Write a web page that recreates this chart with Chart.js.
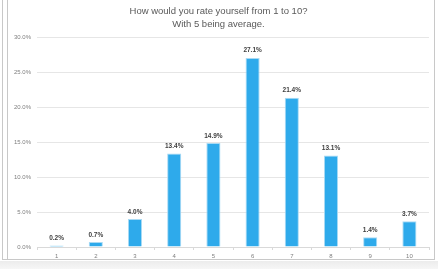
<!DOCTYPE html>
<html>
<head>
<meta charset="utf-8">
<script src="https://cdn.jsdelivr.net/npm/chart.js@4"></script>
<style>
  body { margin: 0; background: #fff; }
  #wrap { position: relative; width: 438px; height: 269px; overflow: hidden; }
  #frame { position: absolute; left: 2px; top: -2px; width: 431px; height: 260px; border: 1px solid #c8c8c8; }
  #inner { position: absolute; left: 7px; top: -2px; width: 0; height: 261px; border-left: 1px solid #c8c8c8; }
  #foot { position: absolute; left: 0; top: 261px; width: 438px; height: 8px; background: linear-gradient(#ececec, #f6f6f6); }
  canvas { position: absolute; left: 0; top: 0; }
</style>
</head>
<body>
<div id="wrap">
  <div id="frame"></div>
  <div id="inner"></div>
  <div id="foot"></div>
  <canvas id="c" width="438" height="269"></canvas>
</div>
<script>
// ratings 1..10, share of answers
const categories = ["1", "2", "3", "4", "5", "6", "7", "8", "9", "10"];
const shares = [0.002, 0.007, 0.040, 0.134, 0.149, 0.271, 0.214, 0.131, 0.014, 0.037];
const yTicks = [0, 0.05, 0.10, 0.15, 0.20, 0.25, 0.30];

const pct = v => (v * 100).toFixed(1) + "%";

// value labels above each bar
const barLabels = {
  id: "barLabels",
  afterDatasetsDraw(chart) {
    const ctx = chart.ctx;
    const meta = chart.getDatasetMeta(0);
    ctx.save();
    ctx.font = "bold 6.5px 'Liberation Sans', sans-serif";
    ctx.fillStyle = "#404040";
    ctx.textAlign = "center";
    ctx.textBaseline = "bottom";
    meta.data.forEach((bar, i) => {
      ctx.fillText(pct(shares[i]), bar.x, bar.y - 4);
    });
    ctx.restore();
  }
};

new Chart(document.getElementById("c"), {
  type: "bar",
  data: {
    labels: categories,
    datasets: [{
      data: shares,
      backgroundColor: "#2eaaeb",
      borderColor: "#a8daf4",
      borderWidth: 1,
      barPercentage: 0.72,
      categoryPercentage: 0.5
    }]
  },
  options: {
    responsive: false,
    animation: false,
    layout: { padding: { left: 8, right: 9, top: 0, bottom: 0 } },
    plugins: {
      legend: { display: false },
      tooltip: { enabled: false },
      title: {
        display: true,
        text: ["How would you rate yourself from 1 to 10?", "With 5 being average."],
        color: "#595959",
        font: { family: "'Liberation Sans', sans-serif", size: 9.5, weight: "normal", lineHeight: 1.35 },
        padding: { top: 5, bottom: 7 }
      }
    },
    scales: {
      x: {
        grid: { display: true, drawOnChartArea: false, offset: true, tickLength: 3, color: "#d9d9d9" },
        border: { color: "#d9d9d9" },
        ticks: { color: "#7f7f7f", font: { size: 6 }, padding: 3 },
        afterFit: s => { s.height = 22; }
      },
      y: {
        min: 0,
        max: 0.3,
        afterBuildTicks: s => { s.ticks = yTicks.map(v => ({ value: v })); },
        grid: { color: "#e6e6e6", drawTicks: false },
        border: { display: false },
        ticks: { color: "#7f7f7f", font: { size: 6 }, padding: 6, callback: v => pct(v) },
        afterFit: s => { s.width = 29; }
      }
    }
  },
  plugins: [barLabels]
});
</script>
</body>
</html>
